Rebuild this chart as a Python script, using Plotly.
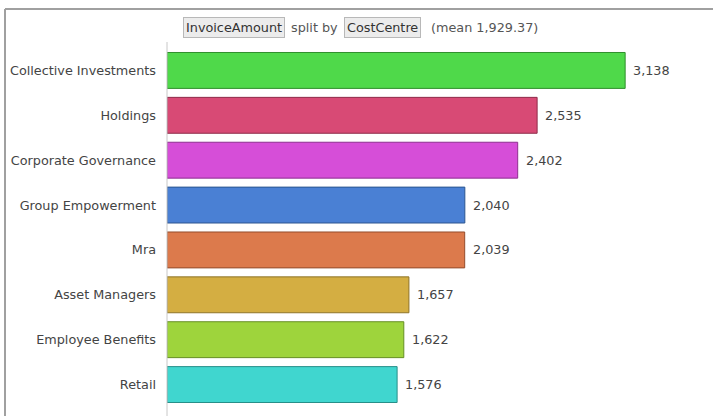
import plotly.graph_objects as go

categories = ["Collective Investments", "Holdings", "Corporate Governance", "Group Empowerment",
              "Mra", "Asset Managers", "Employee Benefits", "Retail"]
values = [3138, 2535, 2402, 2040, 2039, 1657, 1622, 1576]
colors = ["#4fd94a", "#d84a75", "#d64ed8", "#4a80d4", "#dc7a4c", "#d4ae42", "#9ed43c", "#40d6cf"]
borders = ["#2f8f2c", "#8f2c4a", "#8f2f90", "#2c5590", "#944c2c", "#8f7428", "#668f24", "#288f89"]

W, H = 713, 416
ML, MR, MT, MB = 167, 13, 48, 9
pw, ph = W - ML - MR, H - MT - MB
FS = 12.8

def px_x(p):
    return (p - ML) / pw

def px_y(p):
    return 1 - (p - MT) / ph

fig = go.Figure()
fig.add_trace(go.Bar(
    y=categories, x=values, orientation="h",
    marker=dict(color=colors, line=dict(color=borders, width=1)),
    width=0.8, hoverinfo="skip",
))

for c, v in zip(categories, values):
    fig.add_annotation(x=v, y=c, text=f"{v:,}", showarrow=False, xanchor="left",
                       xshift=6, yanchor="middle",
                       font=dict(family="DejaVu Sans", size=FS, color="#444444"))

fig.update_layout(
    width=W, height=H, margin=dict(l=ML, r=MR, t=MT, b=MB),
    paper_bgcolor="white", plot_bgcolor="white", showlegend=False,
    font=dict(family="DejaVu Sans", size=FS, color="#444444"),
    xaxis=dict(range=[0, pw / 0.146], visible=False, fixedrange=True),
    yaxis=dict(autorange="reversed", showgrid=False, ticks="", ticklabelstandoff=10,
               tickfont=dict(family="DejaVu Sans", size=FS, color="#444444"),
               showline=False, zeroline=False),
)

# frame lines
fig.add_shape(type="line", xref="paper", yref="paper", x0=px_x(5), x1=px_x(713),
              y0=px_y(9), y1=px_y(9), line=dict(color="#a0a0a0", width=2))
fig.add_shape(type="line", xref="paper", yref="paper", x0=px_x(5), x1=px_x(5),
              y0=px_y(9), y1=px_y(416), line=dict(color="#a0a0a0", width=2))
# axis line
fig.add_shape(type="line", xref="paper", yref="paper", x0=0, x1=0,
              y0=px_y(42), y1=px_y(416), line=dict(color="#c8c8c8", width=1))

# title pieces
title_parts = [("InvoiceAmount", True), ("split by", False), ("CostCentre", True), ("(mean 1,929.37)", False)]
xs = [234, 314, 382, 484]
for (txt, boxed), xc in zip(title_parts, xs):
    fig.add_annotation(
        text=txt, xref="paper", yref="paper", x=px_x(xc), y=px_y(27),
        xanchor="center", yanchor="middle", showarrow=False,
        font=dict(family="DejaVu Sans", size=FS, color="#333333" if boxed else "#555555"),
        bgcolor="#ececec" if boxed else "rgba(0,0,0,0)",
        bordercolor="#b8b8b8" if boxed else "rgba(0,0,0,0)", borderwidth=1, borderpad=2,
    )

fig.write_html("out.html")
